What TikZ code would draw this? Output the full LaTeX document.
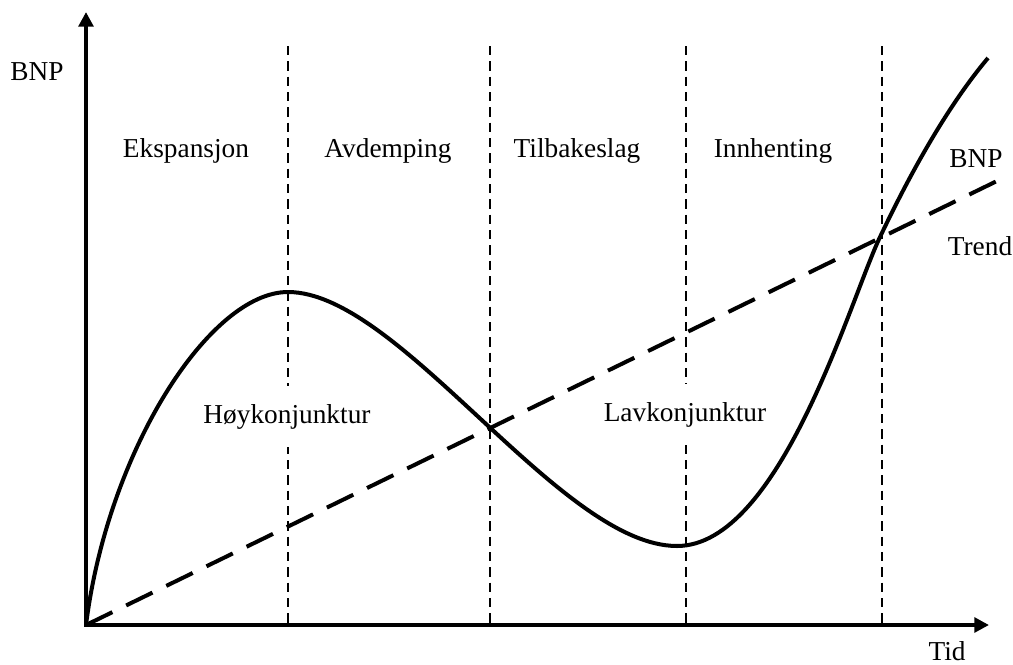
\documentclass[tikz,border=0pt]{standalone}
\usepackage{fontspec}
\setmainfont{Liberation Serif}
\usetikzlibrary{arrows.meta}

\tikzset{every picture/.style={line width=0.75pt}}
\tikzset{
  axis/.style={line width=3.5pt,line join=miter,{Triangle[length=11pt,width=11pt]}-{Triangle[length=11pt,width=11pt]}},
  phase/.style={line width=1.5pt,dash pattern={on 7pt off 4.5pt}},
  trendline/.style={line width=3pt,dash pattern={on 22pt off 11.5pt}},
  gdp/.style={line width=3pt},
  lbl/.style={inner sep=0pt,font=\fontsize{20.5}{24}\selectfont},
  cutlbl/.style={lbl,fill=white,inner xsep=2pt,inner ysep=13.5pt},
}

\begin{document}
\begin{tikzpicture}[x=0.75pt,y=0.75pt,yscale=-1,xscale=1]
\useasboundingbox (0,0) rectangle (1013,664);

% axes
\coordinate (O) at (86,625);
\coordinate (ytop) at (86,12);
\coordinate (xend) at (989,625);

% phase borders
\foreach \x/\n in {288/1,490/2,686/3,882/4}{
  \coordinate (p\n) at (\x,46);
  \draw [phase] (p\n) -- (p\n |- O);
}

\draw [axis] (ytop) -- (O) -- (xend);

% phase names
\node [lbl,anchor=base] (eksp) at (186,157) {Ekspansjon};
\node [lbl,anchor=base] (avde) at (388,157) {Avdemping};
\node [lbl,anchor=base] (tilb) at (577,157) {Tilbakeslag};
\node [lbl,anchor=base] (innh) at (773,157) {Innhenting};

\node [cutlbl,anchor=base] (hoy) at (287,423) {Høykonjunktur};
\node [cutlbl,anchor=base] (lav) at (685,421) {Lavkonjunktur};

% trend and BNP
\coordinate (trendend) at (997,181);
\draw [trendline] (O) -- (trendend);

\coordinate (peak) at (288,292);
\coordinate (trough) at (677,546);
\coordinate (cross) at (880,237);
\coordinate (bnpend) at (988,58);
\draw [gdp] (O) .. controls (108,450) and (210,292) .. (peak)
  .. controls (400,292) and (560,546) .. (trough)
  .. controls (780,546) and (850,300) .. (cross)
  .. controls (900,195) and (940,115) .. (bnpend);

% axis and curve labels
\node [lbl,anchor=base] (ylab) at (37,80) {BNP};
\node [lbl,anchor=base] (xlab) at (947,660) {Tid};
\node [lbl,anchor=base] (bnplab) at (976,167) {BNP};
\node [lbl,anchor=base] (trendlab) at (980,255) {Trend};
\end{tikzpicture}
\end{document}
